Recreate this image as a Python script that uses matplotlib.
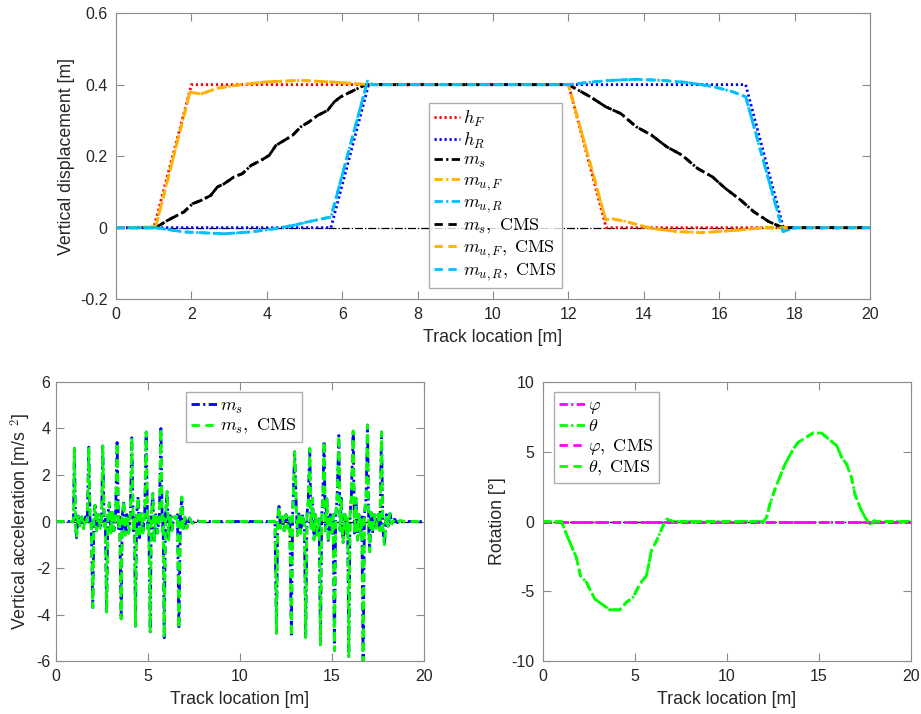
import matplotlib
matplotlib.use('Agg')
import matplotlib.pyplot as plt
import numpy as np

plt.rcParams['font.family'] = ['Liberation Sans', 'DejaVu Sans']
plt.rcParams['mathtext.fontset'] = 'cm'
plt.rcParams['axes.unicode_minus'] = False

# ---- vertical displacement (top) ----
hF_x = [0, 1.0, 2.0, 12.0, 13.0, 20]
hF_y = [0, 0, 0.4, 0.4, 0, 0]
hR_x = [0, 5.7, 6.7, 16.7, 17.7, 20]
hR_y = [0, 0, 0.4, 0.4, 0, 0]

ms_x = [0, 1.05, 1.36, 1.8, 2.03, 2.25, 2.51, 2.69, 2.87, 3.13, 3.35, 3.58, 3.84, 4.06,
        4.24, 4.46, 4.68, 4.9, 5.12, 5.35, 5.61, 5.79, 5.96, 6.23, 6.58, 6.67,
        12.0, 12.58, 12.99, 13.39, 13.8, 14.2, 14.61, 15.01, 15.42, 15.82, 16.16,
        16.57, 16.91, 17.31, 17.69, 20]
ms_y = [0, 0, 0.02, 0.044, 0.067, 0.076, 0.09, 0.114, 0.123, 0.142, 0.151, 0.174, 0.188, 0.202,
        0.23, 0.244, 0.258, 0.282, 0.296, 0.314, 0.328, 0.352, 0.366, 0.38, 0.398, 0.4,
        0.4, 0.366, 0.338, 0.319, 0.282, 0.259, 0.226, 0.203, 0.166, 0.142, 0.11,
        0.077, 0.045, 0.017, 0, 0]

muF_x = [0, 1.05, 1.96, 2.25, 2.69, 3.31, 4.02, 4.9, 5.79, 6.67, 12.0, 12.99, 13.12,
         13.53, 14.2, 14.88, 15.55, 16.5, 17.18, 17.69, 20]
muF_y = [0, 0.002, 0.379, 0.374, 0.39, 0.4, 0.408, 0.412, 0.407, 0.4, 0.4, 0.021, 0.026,
         0.017, -0.002, -0.011, -0.014, -0.007, 0, 0, 0]

muR_x = [0, 1.05, 1.8, 2.87, 3.58, 4.2, 4.73, 5.08, 5.7, 6.67, 6.8, 12.0, 12.58, 13.12,
         13.8, 14.47, 15.15, 15.82, 16.36, 16.7, 17.69, 17.99, 20]
muR_y = [0, 0, -0.012, -0.017, -0.012, -0.003, 0.007, 0.016, 0.03, 0.41, 0.4, 0.4, 0.407, 0.412,
         0.415, 0.412, 0.406, 0.395, 0.38, 0.366, -0.011, 0, 0]

# ---- sprung mass vertical acceleration (bottom left) ----
acc_x = [0, 0.95, 1.0, 1.06, 1.12, 1.2, 1.3, 1.4, 1.5, 1.6, 1.7, 1.78, 1.85, 1.92, 2.0,
         2.06, 2.12, 2.2, 2.3, 2.4, 2.48, 2.54, 2.62, 2.68, 2.75, 2.82, 2.9, 2.98, 3.06,
         3.15, 3.24, 3.32, 3.4, 3.46, 3.54, 3.6, 3.68, 3.76, 3.85, 3.95, 4.04, 4.12, 4.2,
         4.26, 4.32, 4.38, 4.46, 4.54, 4.62, 4.72, 4.82, 4.9, 4.98, 5.04, 5.12, 5.18, 5.26,
         5.34, 5.42, 5.52, 5.62, 5.7, 5.78, 5.82, 5.88, 5.95, 6.04, 6.12, 6.2, 6.3, 6.4,
         6.5, 6.6, 6.68, 6.76, 6.84, 6.92, 7.0, 7.1, 7.25, 7.4, 7.6, 7.8,
         11.9, 11.98, 12.05, 12.12, 12.2, 12.3, 12.4, 12.5, 12.6, 12.7, 12.79, 12.86, 12.97,
         13.05, 13.12, 13.2, 13.3, 13.4, 13.5, 13.57, 13.64, 13.71, 13.79, 13.86, 13.94,
         14.02, 14.1, 14.2, 14.3, 14.37, 14.44, 14.5, 14.57, 14.64, 14.72, 14.8, 14.9, 15.0,
         15.06, 15.13, 15.2, 15.28, 15.37, 15.44, 15.5, 15.6, 15.7, 15.8, 15.85, 15.91,
         15.98, 16.05, 16.15, 16.22, 16.3, 16.38, 16.46, 16.56, 16.62, 16.69, 16.76, 16.85,
         16.93, 17.0, 17.05, 17.12, 17.2, 17.3, 17.4, 17.5, 17.6, 17.69, 17.76, 17.85, 17.95,
         18.05, 18.15, 18.25, 18.4, 18.55, 18.7, 18.9, 20]
acc_y = [0, 0, 3.15, -0.2, -0.7, 0.3, -0.2, 0.2, -0.3, 0.2, 0.0, 3.2, 0.1, -0.3, -3.7,
         0.2, 0.7, -0.4, 0.3, -0.3, 0.2, 3.25, -0.2, 0.1, -3.9, 0.3, 0.8, -0.5, 0.4,
         -0.4, 0.3, 3.4, -0.3, 0.2, -4.2, 0.2, 0.9, -0.6, 0.3, -0.5, 0.3, 3.6, -0.4,
         0.2, -4.5, 0.3, 1.05, -0.7, 0.4, -0.5, 0.3, 3.85, -0.3, 0.2, -4.75, 0.3, 1.2,
         -0.9, 0.3, -0.5, 0.3, 4.0, -0.4, 0.2, -5.0, 0.3, 1.3, -0.8, 0.3, -0.4, 0.2,
         0.1, 0.3, -4.6, 0.3, 1.05, -0.3, 0.2, -0.3, 0.15, -0.08, 0.05, 0,
         0, -4.8, 0.2, 0.65, -0.3, 0.2, -0.4, 0.3, -0.3, 0.2, -4.95, 0.3, 3.0,
         0.85, -0.6, 0.4, -0.5, 0.3, -0.2, -5.0, 0.3, 0.9, 3.15, -0.3, 1.0,
         -0.8, 0.3, -0.6, 0.2, -5.3, 0.3, 1.0, 3.45, -0.4, 1.0, -0.9, 0.3, -0.5,
         0.3, -5.55, 0.2, 1.1, 3.7, -0.4, 1.0, -0.9, 0.3, -0.6, 0.2, -5.8,
         0.3, 1.1, 3.9, -0.5, 1.0, -0.8, 0.3, -0.6, 0.2, -6.0, 0.3, 1.0,
         4.15, -0.5, -1.3, 0.4, -0.5, 0.3, -0.3, 0.3, -0.4, 3.85, -0.3, -1.0, 0.3,
         -0.2, 0.35, -0.1, 0.1, -0.05, 0.05, 0, 0]

# ---- rotations (bottom right) ----
phi_x = [0, 20]
phi_y = [0, 0]
theta_x = [0, 1.0, 1.27, 1.54, 1.81, 2.03, 2.36, 2.81, 3.17, 3.63, 4.17, 4.53, 4.9, 5.26,
           5.62, 5.89, 6.17, 6.62, 6.75, 7.07, 11.97, 12.15, 12.33, 12.6, 12.87, 13.15,
           13.6, 13.87, 14.32, 14.69, 15.14, 15.5, 15.96, 16.23, 16.5, 16.77, 16.95, 17.23,
           17.5, 17.77, 17.99, 18.2, 20]
theta_y = [0, 0, -0.9, -1.74, -2.57, -3.88, -4.36, -5.55, -5.9, -6.33, -6.33, -5.79, -5.43, -4.48,
           -3.88, -2.1, -1.38, 0, 0.17, 0, 0, 0.29, 1.24, 2.3, 3.2, 4.1,
           5.2, 5.68, 6.05, 6.35, 6.34, 5.93, 5.44, 4.59, 4.1, 3.12, 1.95, 1.0,
           0.29, -0.19, 0.05, 0, 0]

RED = '#FF0000'
BLUE = '#0000FF'
BLACK = '#000000'
ORANGE = '#FFB000'
CYAN = '#00BFFF'
GREEN = '#00FF00'
MAGENTA = '#FF00FF'
GRID = '#8C8C8C'
TXT = '#262626'

# MATLAB-like short dash patterns
DOT = (0, (0.8, 1.0))
DASHDOT = (0, (3.0, 1.2, 0.8, 1.2))
DASH = (0, (3.0, 2.0))

fig = plt.figure(figsize=(9.21, 7.14), dpi=100)


def style_axes(ax):
    for s in ax.spines.values():
        s.set_color(GRID)
        s.set_linewidth(0.8)
    ax.tick_params(direction='in', top=True, right=True, length=6, width=0.8,
                   color=GRID, labelcolor=TXT, labelsize=11.5, pad=6)


def fmt(v, _):
    return f'{v:g}'


leg_kw = dict(fontsize=13, frameon=True, fancybox=False, edgecolor='#999999',
              handlelength=1.4, handletextpad=0.2, labelspacing=0.1,
              borderpad=0.3, borderaxespad=0)

# top panel
ax1 = fig.add_axes([0.126, 0.581, 0.8187, 0.4006])
ax1.plot([0, 20], [0, 0], color=BLACK, lw=0.9, ls='-.', label='_nolegend_')
ax1.plot(hF_x, hF_y, color=RED, lw=2, ls=DOT, label=r'$h_F$')
ax1.plot(hR_x, hR_y, color=BLUE, lw=2, ls=DOT, label=r'$h_R$')
ax1.plot(ms_x, ms_y, color=BLACK, lw=2, ls=DASHDOT, label=r'$m_s$')
ax1.plot(muF_x, muF_y, color=ORANGE, lw=2, ls=DASHDOT, label=r'$m_{u,F}$')
ax1.plot(muR_x, muR_y, color=CYAN, lw=2, ls=DASHDOT, label=r'$m_{u,R}$')
ax1.plot(ms_x, ms_y, color=BLACK, lw=2, ls=DASH, label=r'$m_s,$ $\mathrm{CMS}$')
ax1.plot(muF_x, muF_y, color=ORANGE, lw=2, ls=DASH, label=r'$m_{u,F},$ $\mathrm{CMS}$')
ax1.plot(muR_x, muR_y, color=CYAN, lw=2, ls=DASH, label=r'$m_{u,R},$ $\mathrm{CMS}$')
ax1.set_xlim(0, 20)
ax1.set_ylim(-0.2, 0.6)
ax1.set_xticks(np.arange(0, 21, 2))
ax1.set_yticks([-0.2, 0, 0.2, 0.4, 0.6])
ax1.yaxis.set_major_formatter(fmt)
ax1.set_xlabel('Track location [m]', fontsize=12.8, color=TXT, labelpad=5)
ax1.set_ylabel('Vertical displacement [m]', fontsize=12.8, color=TXT, labelpad=4)
style_axes(ax1)
ax1.legend(loc='upper left', bbox_to_anchor=(0.415, 0.685), **leg_kw)

# bottom left panel
ax2 = fig.add_axes([0.0608, 0.0742, 0.3996, 0.3908])
ax2.plot([0, 20], [0, 0], color=BLACK, lw=0.9, ls='-.', label='_nolegend_')
ax2.plot(acc_x, acc_y, color=BLUE, lw=2, ls=DASHDOT, label=r'$m_s$')
ax2.plot(acc_x, acc_y, color=GREEN, lw=2, ls=DASH, label=r'$m_s,$ $\mathrm{CMS}$')
ax2.set_xlim(0, 20)
ax2.set_ylim(-6, 6)
ax2.set_xticks([0, 5, 10, 15, 20])
ax2.set_yticks(np.arange(-6, 7, 2))
ax2.set_xlabel('Track location [m]', fontsize=12.8, color=TXT, labelpad=5)
ax2.set_ylabel(r'Vertical acceleration [m/s $^2$]', fontsize=12.8, color=TXT, labelpad=2)
style_axes(ax2)
ax2.tick_params(axis='y', pad=4)
ax2.legend(loc='upper left', bbox_to_anchor=(0.353, 0.964), **leg_kw)

# bottom right panel
ax3 = fig.add_axes([0.5896, 0.0742, 0.3996, 0.3908])
ax3.plot([0, 20], [0, 0], color=BLACK, lw=0.9, ls='-.', label='_nolegend_')
ax3.plot(phi_x, phi_y, color=MAGENTA, lw=2, ls=DASHDOT, label=r'$\varphi$')
ax3.plot(theta_x, theta_y, color=GREEN, lw=2, ls=DASHDOT, label=r'$\theta$')
ax3.plot(phi_x, phi_y, color=MAGENTA, lw=2, ls=DASH, label=r'$\varphi,$ $\mathrm{CMS}$')
ax3.plot(theta_x, theta_y, color=GREEN, lw=2, ls=DASH, label=r'$\theta,$ $\mathrm{CMS}$')
ax3.set_xlim(0, 20)
ax3.set_ylim(-10, 10)
ax3.set_xticks([0, 5, 10, 15, 20])
ax3.set_yticks([-10, -5, 0, 5, 10])
ax3.set_xlabel('Track location [m]', fontsize=12.8, color=TXT, labelpad=5)
ax3.set_ylabel('Rotation [°]', fontsize=12.8, color=TXT, labelpad=4)
style_axes(ax3)
ax3.legend(loc='upper left', bbox_to_anchor=(0.03, 0.964), **leg_kw)

fig.savefig('out.png', dpi=100)
